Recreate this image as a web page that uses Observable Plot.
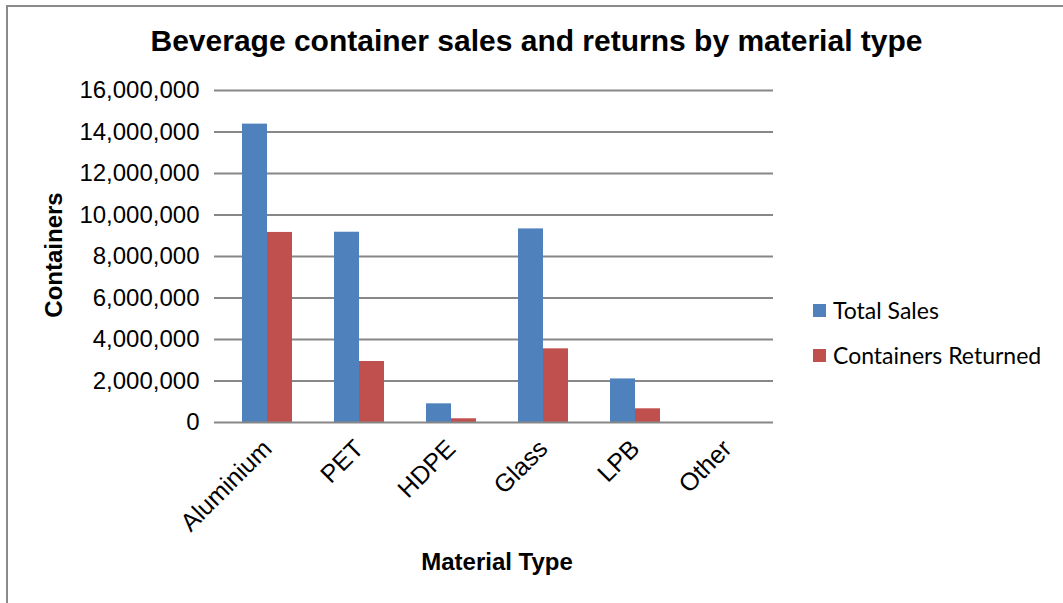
<!DOCTYPE html>
<html>
<head>
<meta charset="utf-8">
<script src="https://cdn.jsdelivr.net/npm/d3@7"></script>
<script src="https://cdn.jsdelivr.net/npm/@observablehq/plot@0.6"></script>
<style>
  html, body { margin: 0; padding: 0; background: #fff; }
  #wrap { position: relative; width: 1063px; height: 603px; overflow: hidden; background: #fff; }
  #wrap svg { position: absolute; left: 0; top: 0; }
  .border { position: absolute; left: 6px; top: 5px; width: 1100px; height: 700px; border-left: 2px solid #8a8a8a; border-top: 2px solid #8a8a8a; }
  .title { position: absolute; left: 0; width: 1073px; top: 24px; text-align: center; font: bold 30px "Liberation Sans", Arial, sans-serif; color: #000; }
  .ylab { position: absolute; left: 54px; top: 255px; transform: translate(-50%, -50%) rotate(-90deg); font: bold 24px "Liberation Sans", Arial, sans-serif; white-space: nowrap; }
  .xlab { position: absolute; left: 497px; top: 562px; transform: translate(-50%, -50%); font: bold 24px "Liberation Sans", Arial, sans-serif; white-space: nowrap; }
  .legend { position: absolute; left: 813px; top: 295px; font: 23px Lato, sans-serif; color: #000; }
  .legend .item { display: flex; align-items: center; height: 30px; margin-bottom: 15px; }
  .legend .sw { width: 13px; height: 13px; margin-right: 7px; }
</style>
</head>
<body>
<div id="wrap">
  <div class="border"></div>
</div>
<script>
const categories = ["Aluminium", "PET", "HDPE", "Glass", "LPB", "Other"];
const totalSales = [14380000, 9170000, 900000, 9330000, 2100000, 0];
const containersReturned = [9160000, 2940000, 180000, 3550000, 660000, 0];
const seriesNames = ["Total Sales", "Containers Returned"];
const seriesColors = ["#4F81BD", "#C0504D"];
const yTicks = [0, 2000000, 4000000, 6000000, 8000000, 10000000, 12000000, 14000000, 16000000];
const titleText = "Beverage container sales and returns by material type";
const yLabel = "Containers";
const xLabel = "Material Type";

const rows = categories.flatMap((c, i) => [
  {category: c, series: seriesNames[0], value: totalSales[i]},
  {category: c, series: seriesNames[1], value: containersReturned[i]}
]);

const gray = "#878787";
const half = (1063 - 221 - 290) / categories.length / 2;

const chart = Plot.plot({
  width: 1063,
  height: 603,
  marginLeft: 221,
  marginRight: 290,
  marginTop: 90,
  marginBottom: 181,
  style: {fontFamily: "'Liberation Sans', Arial, sans-serif", fontSize: "24px", background: "transparent", color: "#000"},
  fx: {domain: categories, padding: 0},
  x: {domain: seriesNames, paddingInner: 0, paddingOuter: 0.77, axis: null},
  y: {domain: [0, 16000000]},
  color: {domain: seriesNames, range: seriesColors},
  marks: [
    Plot.ruleY(yTicks.slice(1), {stroke: gray, strokeWidth: 2}),
    Plot.barY(rows, {fx: "category", x: "series", y: "value", fill: "series"}),
    Plot.ruleY([0], {stroke: gray, strokeWidth: 2}),
    Plot.ruleX([categories[0]], {fx: d => d, y1: 0, y2: 16000000, dx: -half, stroke: gray, strokeWidth: 2}),
    Plot.ruleX(categories, {fx: d => d, y1: 0, y2: 0, insetBottom: -7, dx: -half, stroke: gray, strokeWidth: 2}),
    Plot.ruleX([categories[categories.length - 1]], {fx: d => d, y1: 0, y2: 0, insetBottom: -7, dx: half, stroke: gray, strokeWidth: 2}),
    Plot.axisY({ticks: yTicks, tickFormat: d3.format(","), tickSize: 7, tickPadding: 15, stroke: gray, strokeWidth: 2, fill: "#000", label: null, fontSize: 24}),
    Plot.axisFx({anchor: "bottom", tickRotate: -45, tickSize: 0, tickPadding: 22, label: null, fontSize: 25, fill: "#000"})
  ]
});

const wrap = document.getElementById("wrap");
wrap.appendChild(chart);

const t = document.createElement("div"); t.className = "title"; t.textContent = titleText; wrap.appendChild(t);
const yl = document.createElement("div"); yl.className = "ylab"; yl.textContent = yLabel; wrap.appendChild(yl);
const xl = document.createElement("div"); xl.className = "xlab"; xl.textContent = xLabel; wrap.appendChild(xl);
const lg = document.createElement("div"); lg.className = "legend";
seriesNames.forEach((s, i) => {
  const it = document.createElement("div"); it.className = "item";
  const sw = document.createElement("div"); sw.className = "sw"; sw.style.background = seriesColors[i];
  const tx = document.createElement("span"); tx.textContent = s;
  it.appendChild(sw); it.appendChild(tx); lg.appendChild(it);
});
wrap.appendChild(lg);
</script>
</body>
</html>
